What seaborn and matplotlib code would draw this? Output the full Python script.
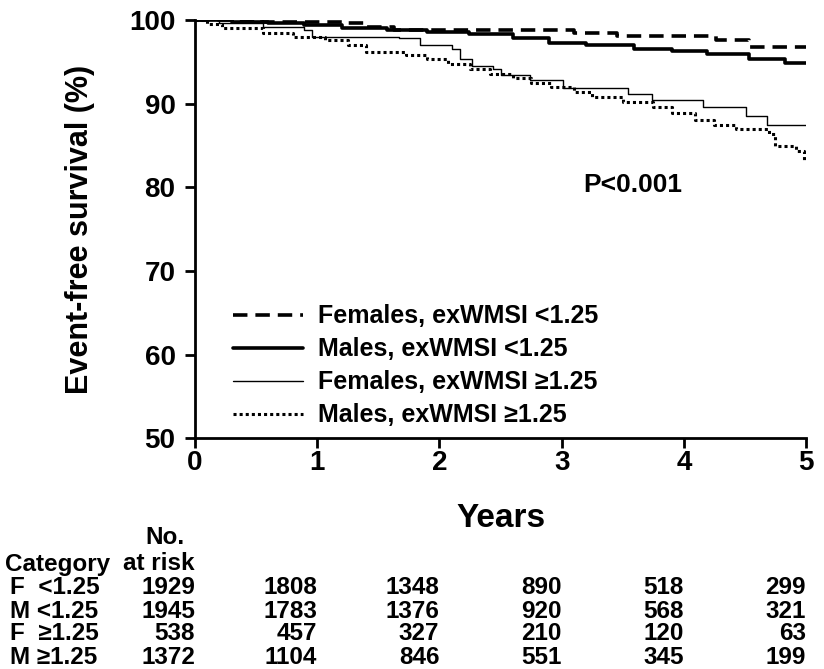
import matplotlib
matplotlib.use("Agg")
import matplotlib.pyplot as plt
import matplotlib.transforms as mtransforms
import pandas as pd
import seaborn as sns

# step curves: (years, survival %)
f_low_years = [0, 0.55, 1.23, 1.4, 1.63, 3.1, 3.45, 4.26, 4.53, 5.0]
f_low_surv = [100, 99.8, 99.6, 99.2, 98.8, 98.4, 98.1, 97.6, 96.8, 96.8]

m_low_years = [0, 0.3, 0.6, 0.89, 1.2, 1.57, 1.9, 2.24, 2.6, 2.9, 3.2, 3.59, 3.9, 4.19, 4.53, 4.83, 5.0]
m_low_surv = [100, 99.8, 99.6, 99.4, 99.1, 98.8, 98.6, 98.3, 97.8, 97.3, 97.0, 96.6, 96.3, 96.0, 95.4, 94.9, 94.9]

f_high_years = [0, 0.2, 0.56, 0.89, 0.96, 1.67, 1.84, 2.1, 2.17, 2.27, 2.44, 2.5, 2.74,
                3.01, 3.54, 3.74, 4.16, 4.51, 4.68, 5.0]
f_high_surv = [100, 99.6, 99.2, 98.8, 98.0, 97.8, 97.0, 96.6, 95.4, 94.5, 94.1, 93.4, 92.8,
               91.9, 91.1, 90.5, 89.6, 88.5, 87.5, 87.5]

m_high_years = [0, 0.1, 0.22, 0.56, 0.8, 1.06, 1.25, 1.4, 1.73, 1.9, 2.07, 2.25, 2.41, 2.6, 2.75,
                2.91, 3.1, 3.25, 3.5, 3.75, 3.9, 4.09, 4.25, 4.43, 4.7, 4.75, 4.92, 4.98, 5.0]
m_high_surv = [100, 99.5, 99.0, 98.4, 98.0, 97.6, 97.0, 96.2, 95.8, 95.3, 94.8, 94.2, 93.6, 93.1, 92.5,
               92.0, 91.4, 90.8, 90.2, 89.6, 88.9, 88.0, 87.5, 87.0, 86.4, 85.0, 84.4, 83.3, 83.3]

labels = ["Females, exWMSI <1.25", "Males, exWMSI <1.25",
          "Females, exWMSI \u22651.25", "Males, exWMSI \u22651.25"]

row_labels = ["F  <1.25", "M <1.25", "F  \u22651.25", "M \u22651.25"]
at_risk_years = [0, 1, 2, 3, 4, 5]
at_risk = [
    [1929, 1808, 1348, 890, 518, 299],
    [1945, 1783, 1376, 920, 568, 321],
    [538, 457, 327, 210, 120, 63],
    [1372, 1104, 846, 551, 345, 199],
]

sns.set_style("ticks")
plt.rcParams["font.family"] = ["Liberation Sans", "DejaVu Sans"]
plt.rcParams.update({
    "font.weight": "bold",
    "text.color": "black",
    "axes.labelcolor": "black",
    "axes.edgecolor": "black",
    "xtick.color": "black",
    "ytick.color": "black",
})

fig = plt.figure(figsize=(8.24, 6.69), dpi=100)
ax = fig.add_axes([0.2367, 0.345, 0.7415, 0.625])

curves = [(f_low_years, f_low_surv), (m_low_years, m_low_surv),
          (f_high_years, f_high_surv), (m_high_years, m_high_surv)]
styles = [dict(lw=2.6, dashes=(4, 2.2)), dict(lw=2.6), dict(lw=1.0), dict(lw=2.2, linestyle=(0, (1, 1)))]
for (xs, ys), lab, st in zip(curves, labels, styles):
    df = pd.DataFrame({"years": xs, "surv": ys})
    line_kw = {k: v for k, v in st.items() if k != "dashes"}
    sns.lineplot(data=df, x="years", y="surv", ax=ax, color="black", drawstyle="steps-post",
                 estimator=None, label=lab, **line_kw)
    if "dashes" in st:
        ax.lines[-1].set_dashes(st["dashes"])

ax.set_xlim(0, 5)
ax.set_ylim(50, 100)
ax.set_xticks([0, 1, 2, 3, 4, 5])
ax.set_yticks([50, 60, 70, 80, 90, 100])
sns.despine(ax=ax)
for sp in ["left", "bottom"]:
    ax.spines[sp].set_linewidth(2)
ax.tick_params(axis="both", direction="out", length=7, width=2, labelsize=20)
ax.tick_params(axis="x", pad=1.5)
ax.tick_params(axis="y", pad=7)
for t in ax.get_xticklabels() + ax.get_yticklabels():
    t.set_fontweight("bold")
ax.set_xlabel("Years", fontsize=24, fontweight="bold")
ax.xaxis.set_label_coords(0.5, -0.155)
ax.set_ylabel("Event-free survival (%)", fontsize=22, fontweight="bold")
ax.yaxis.set_label_coords(-0.164, 0.5)

ax.text(3.175, 80.3, "P<0.001", fontsize=19, fontweight="bold", ha="left", va="center")

leg = ax.legend(loc="lower left", bbox_to_anchor=(0.0245, -0.028), frameon=False, handlelength=2.8,
                handletextpad=0.6, labelspacing=0.36, prop={"size": 18, "weight": "bold"})

# number at risk table
tr = mtransforms.blended_transform_factory(ax.transData, fig.transFigure)
fs = 17.5
fig.text(165 / 824, 1 - 538 / 669, "No.", ha="center", va="center", fontsize=fs, fontweight="bold")
fig.text(5 / 824, 1 - 564 / 669, "Category", ha="left", va="center", fontsize=fs, fontweight="bold")
fig.text(195 / 824, 1 - 564 / 669, "at risk", ha="right", va="center", fontsize=fs, fontweight="bold")
row_y = [588, 611, 634, 657]
for lab, vals, yp in zip(row_labels, at_risk, row_y):
    fig.text(10 / 824, 1 - yp / 669, lab, ha="left", va="center", fontsize=fs, fontweight="bold")
    for yr, v in zip(at_risk_years, vals):
        fig.text(yr, 1 - yp / 669, str(v), transform=tr, ha="right", va="center",
                 fontsize=fs, fontweight="bold")

fig.savefig("out.png", dpi=100)
